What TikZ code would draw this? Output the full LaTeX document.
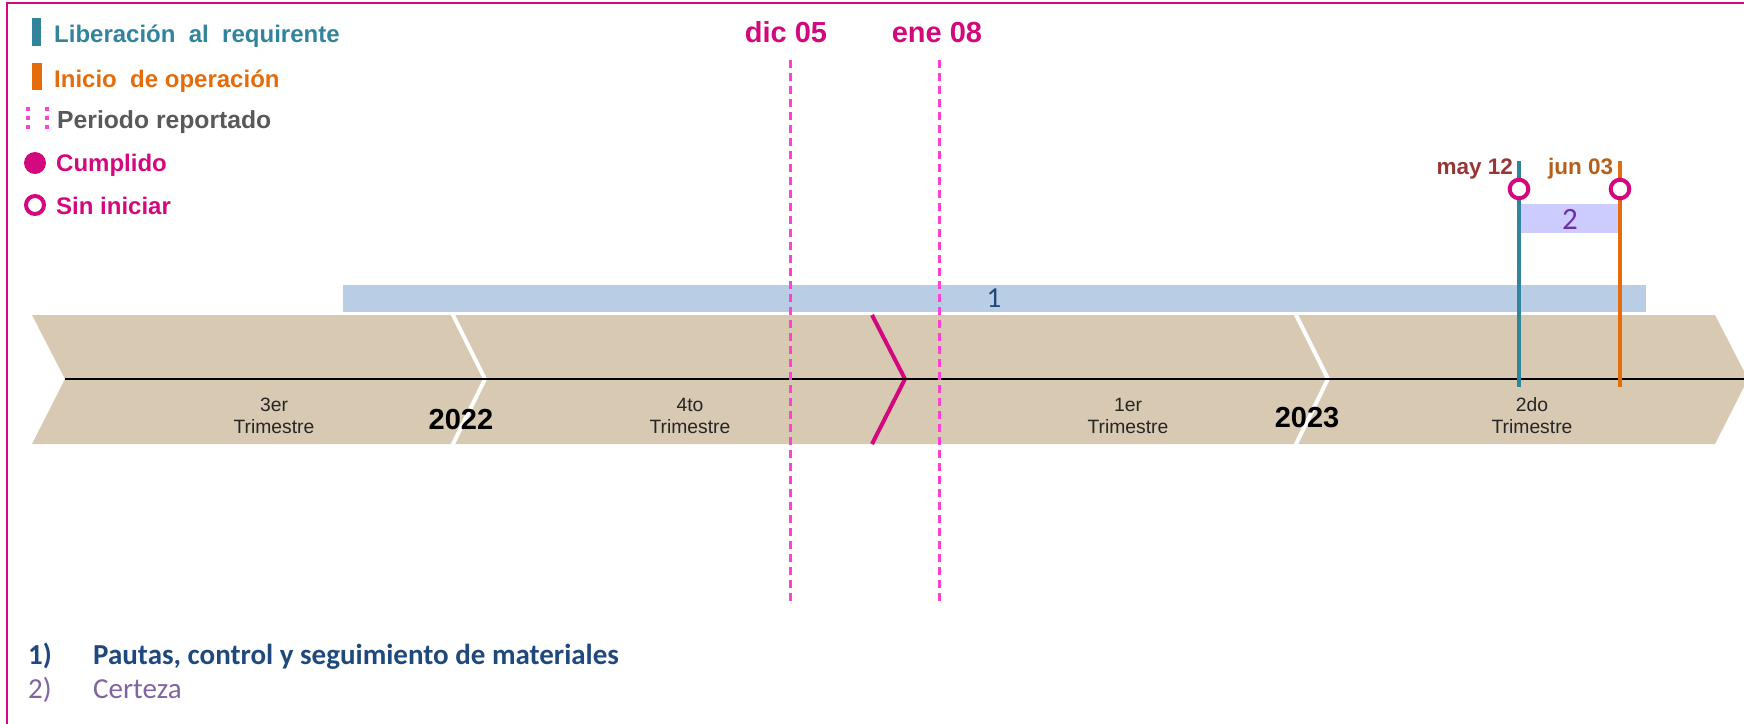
\documentclass[tikz,border=0pt]{standalone}
\usepackage{fontspec}
\setmainfont{Liberation Sans}
\newfontfamily\calib{Carlito}
\definecolor{mag}{HTML}{D4087E}
\definecolor{teal2}{HTML}{31849B}
\definecolor{orng}{HTML}{E46C0A}
\definecolor{graytxt}{HTML}{595959}
\definecolor{pinkd}{HTML}{FF40D0}
\definecolor{tan}{HTML}{D8C9B2}
\definecolor{barone}{HTML}{B9CDE5}
\definecolor{bartwo}{HTML}{CCCCFF}
\definecolor{navy}{HTML}{1F497D}
\definecolor{purp}{HTML}{7030A0}
\definecolor{lilac}{HTML}{8064A2}
\definecolor{mayc}{HTML}{953735}
\definecolor{junc}{HTML}{B5601A}
\tikzset{
  lbl/.style={inner sep=0pt, font=\fontsize{24}{28}\selectfont\bfseries},
  trim/.style={inner sep=0pt, anchor=base, text=black!85, font=\fontsize{19.3}{22}\selectfont},
  yr/.style={inner sep=0pt, anchor=base, font=\fontsize{29}{34}\selectfont\bfseries},
  period/.style={pinkd, line width=3pt, dash pattern=on 8pt off 5pt},
  openmark/.style={draw=mag, line width=4pt, fill=white},
  sep/.style={white, line width=4pt},
  datelbl/.style={inner sep=0pt, anchor=base, text=mag, font=\fontsize{29}{33}\selectfont\bfseries},
  note/.style={inner sep=0pt, anchor=base west, font=\calib\fontsize{29}{33}\selectfont},
}
\begin{document}
\begin{tikzpicture}[x=1pt,y=-1pt]
\useasboundingbox (0,0) rectangle (1744,723);
\clip (0,0) rectangle (1744,723);
% frame
\draw[mag, line width=2pt] (7,730) -- (7,3) -- (1750,3);

% bar 1
\fill[barone] (343,285) rectangle (1646,312);
\node[inner sep=0pt, text=navy, font=\calib\fontsize{29}{32}\selectfont] (b1) at (994,298) {1};

% chevron band
\fill[tan] (32,315) -- (1715,315) -- (1748,379) -- (1715,444) -- (32,444) -- (65,379) -- cycle;
\draw[sep] (452,313) -- (485,379) -- (452,446);
\draw[sep] (1295,313) -- (1328,379) -- (1295,446);
\draw[mag, line width=4pt] (872,315) -- (905,379) -- (872,444);
\draw[black, line width=2pt] (65,379) -- (1750,379);

% quarter labels
\node[trim] (q3a) at (274,411) {3er};
\node[trim] (q3b) at (274,433) {Trimestre};
\node[trim] (q4a) at (690,411) {4to};
\node[trim] (q4b) at (690,433) {Trimestre};
\node[trim] (q1a) at (1128,411) {1er};
\node[trim] (q1b) at (1128,433) {Trimestre};
\node[trim] (q2a) at (1532,411) {2do};
\node[trim] (q2b) at (1532,433) {Trimestre};
\node[yr] (y22) at (461,429) {2022};
\node[yr] (y23) at (1307,427) {2023};

% reported period
\coordinate (d1t) at (790,60); \coordinate (d1b) at (790,604);
\coordinate (d2t) at (939,60); \coordinate (d2b) at (939,604);
\draw[period] (d1t) -- (d1b);
\draw[period] (d2t) -- (d2b);
\node[datelbl] (dic) at (786,42) {dic 05};
\node[datelbl] (ene) at (937,42) {ene 08};

% bar 2
\fill[bartwo] (1521,204) rectangle (1618,233);
\node[inner sep=0pt, text=purp, font=\calib\fontsize{31}{34}\selectfont] (b2) at (1570,219) {2};

% milestones
\coordinate (m1t) at (1519,161); \coordinate (m1b) at (1519,387);
\coordinate (m2t) at (1620,161); \coordinate (m2b) at (1620,387);
\draw[teal2, line width=4pt] (m1t) -- (m1b);
\draw[orng, line width=4pt] (m2t) -- (m2b);
\draw[openmark] (1519,189) circle (9.3);
\draw[openmark] (1620,189) circle (9.3);
\node[inner sep=0pt, anchor=base east, text=mayc, font=\fontsize{22.5}{26}\selectfont\bfseries] (may) at (1513,174) {may 12};
\node[inner sep=0pt, anchor=base west, text=junc, font=\fontsize{22.5}{26}\selectfont\bfseries] (jun) at (1548,174) {jun 03};

% legend
\fill[teal2] (32,18) rectangle (41,46);
\node[lbl, anchor=base west, text=teal2] (l1) at (54,42) {Liberación\ \ al\ \ requirente};
\fill[orng] (32,63) rectangle (42,90);
\node[lbl, anchor=base west, text=orng] (l2) at (54,87) {Inicio\ \ de\ operación};
\draw[pinkd, line width=4pt, dash pattern=on 4pt off 5pt] (28,107) -- (28,130);
\draw[pinkd, line width=4pt, dash pattern=on 4pt off 5pt] (47,107) -- (47,130);
\node[lbl, anchor=base west, text=graytxt, font=\fontsize{24.7}{28}\selectfont\bfseries] (l3) at (57,128) {Periodo reportado};
\fill[mag] (35,163) circle (11);
\node[lbl, anchor=base west, text=mag] (l4) at (56,171) {Cumplido};
\draw[openmark] (35,205) circle (9);
\node[lbl, anchor=base west, text=mag] (l5) at (56,214) {Sin iniciar};

% bottom list
\node[note, text=navy, font=\calib\fontsize{29}{33}\selectfont\bfseries] (n1) at (28,664) {1)};
\node[note, text=navy, font=\calib\fontsize{29}{33}\selectfont\bfseries] (t1) at (93,664) {Pautas, control y seguimiento de materiales};
\node[note, text=lilac] (n2) at (28,698) {2)};
\node[note, text=lilac] (t2) at (93,698) {Certeza};
\end{tikzpicture}
\end{document}
